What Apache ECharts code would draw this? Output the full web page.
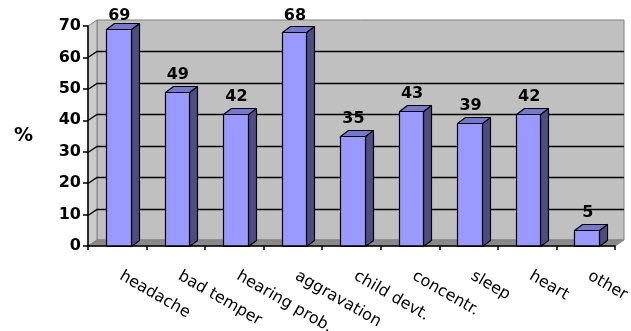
<!DOCTYPE html>
<html><head><meta charset="utf-8">
<script src="https://cdn.jsdelivr.net/npm/echarts@6/dist/echarts.min.js"></script>
<style>html,body{margin:0;padding:0;background:#fff}#c{width:631px;height:331px}</style>
</head><body><div id="c"></div>
<script>
const categories = ['headache','bad temper','hearing prob.','aggravation','child devt.','concentr.','sleep','heart','other'];
const values = [69,49,42,68,35,43,39,42,5];
const yTicks = [0,10,20,30,40,50,60,70];
const yName = '%';

const WDX = 9, WDY = -6;   // wall depth
const BDX = 8, BDY = -6;   // bar depth
const FONT = '"DejaVu Sans", sans-serif';

const chart = echarts.init(document.getElementById('c'), null, {renderer:'canvas'});

function renderWall(params, api){
  const cs = params.coordSys;
  const x0 = cs.x, x1 = cs.x + cs.width;
  const yMax = api.coord([0, yTicks[yTicks.length-1]])[1];
  const y0 = api.coord([0, yTicks[0]])[1];
  const children = [];
  children.push({type:'rect', shape:{x:x0+WDX, y:yMax+WDY, width:x1-x0, height:y0-yMax},
    style:{fill:'#C0C0C0', stroke:'#808080', lineWidth:1}});
  children.push({type:'polygon', shape:{points:[[x0,yMax],[x0+WDX,yMax+WDY],[x0+WDX,y0+WDY],[x0,y0]]},
    style:{fill:'#CBCBCB', stroke:'#808080', lineWidth:1}});
  children.push({type:'polygon', shape:{points:[[x0,y0],[x0+WDX,y0+WDY],[x1+WDX,y0+WDY],[x1,y0]]},
    style:{fill:'#8A8A8A', stroke:'#808080', lineWidth:1}});
  yTicks.forEach(t=>{
    if (t === yTicks[0] || t === yTicks[yTicks.length-1]) return;
    const y = Math.round(api.coord([0,t])[1]) + 0.5;
    children.push({type:'polyline', shape:{points:[[x0,y],[x0+WDX,y+WDY],[x1+WDX,y+WDY]]},
      style:{stroke:'#000', lineWidth:1.3, fill:null}});
  });
  return {type:'group', children};
}

function renderBar(params, api){
  const cs = params.coordSys;
  const idx = api.value(0), v = api.value(1);
  const top = api.coord([idx, v]);
  const base = api.coord([idx, 0]);
  const band = api.size([1,0])[0];
  const w = band*0.42;
  const cx = top[0] + 1;
  const xl = Math.round(cx - w/2) + 0.5, xr = Math.round(cx + w/2) + 0.5;
  const yt = Math.round(top[1]) + 0.5, yb = Math.round(base[1]) + 0.5;
  const st = {stroke:'#000', lineWidth:1.2, lineJoin:'round'};
  const ly = Math.max(yt + BDY - 12, cs.y - 10);
  return {type:'group', children:[
    {type:'polygon', shape:{points:[[xr,yt],[xr+BDX,yt+BDY],[xr+BDX,yb+BDY],[xr,yb]]}, style:Object.assign({fill:'#4D4D84'},st)},
    {type:'polygon', shape:{points:[[xl,yt],[xl+BDX,yt+BDY],[xr+BDX,yt+BDY],[xr,yt]]}, style:Object.assign({fill:'#7777CC'},st)},
    {type:'rect', shape:{x:xl, y:yt, width:xr-xl, height:yb-yt}, style:Object.assign({fill:'#9999FF'},st)},
    {type:'text', style:{text:String(v), x:cx + 1, y:ly, align:'center', verticalAlign:'middle',
      font:'bold 16px ' + FONT, fill:'#000'}}
  ]};
}

chart.setOption({
  animation:false,
  grid:{left:88, right:16, top:26, bottom:85, outerBoundsMode:'none', containLabel:false},
  xAxis:{type:'category', data:categories, boundaryGap:true, z:5,
    axisLine:{show:true, lineStyle:{color:'#000', width:1.5}},
    axisTick:{show:true, length:4, lineStyle:{color:'#000', width:1.5}},
    axisLabel:{rotate:-30, margin:27, padding:[0,0,0,4], fontSize:16, fontFamily:'DejaVu Sans', color:'#000', interval:0},
    splitLine:{show:false}},
  yAxis:{type:'value', min:yTicks[0], max:yTicks[yTicks.length-1], interval:10, z:5,
    name:yName, nameLocation:'middle', nameRotate:0, nameGap:55,
    nameTextStyle:{fontSize:19, fontWeight:'bold', fontFamily:'DejaVu Sans', color:'#000'},
    axisLine:{show:true, lineStyle:{color:'#000', width:1.5}},
    axisTick:{show:true, length:5, lineStyle:{color:'#000', width:1.5}},
    axisLabel:{margin:7, fontSize:16, fontWeight:'bold', fontFamily:'DejaVu Sans', color:'#000'},
    splitLine:{show:false}},
  series:[
    {type:'custom', z:1, renderItem:renderWall, data:[[0,0]], silent:true},
    {type:'custom', z:2, renderItem:renderBar, data:values.map((v,i)=>[i,v])}
  ]
});
</script></body></html>
